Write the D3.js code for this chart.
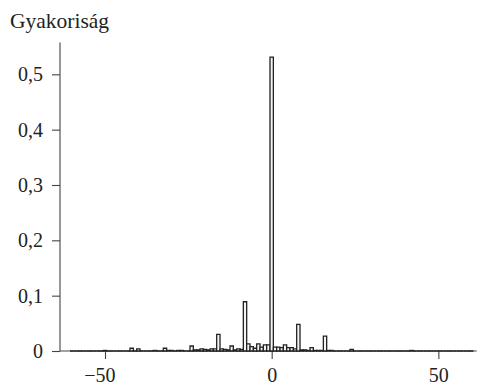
<!DOCTYPE html>
<html>
<head>
<meta charset="utf-8">
<script src="https://cdn.jsdelivr.net/npm/d3@7"></script>
<style>
  body { margin: 0; background: #fff; }
  svg { display: block; }
  svg text { font-family: 'Liberation Serif', 'Times New Roman', Times, serif; }
</style>
</head>
<body>
<svg id="chart" width="478" height="385"></svg>
<script>
// bin centres (integers -60 .. 60) and relative frequency
const bins = d3.range(-60, 61);
const freq = [
  0, 0, 0, 0, 0, 0, 0, 0, 0, 0,                // -60 .. -51
  0.001, 0, 0, 0, 0, 0, 0, 0, 0.005, 0,        // -50 .. -41
  0.004, 0, 0, 0, 0, 0.001, 0, 0, 0.005, 0.001, // -40 .. -31
  0.001, 0, 0.001, 0.001, 0, 0, 0.009, 0.002, 0.002, 0.004, // -30 .. -21
  0.003, 0.002, 0.004, 0.004, 0.030, 0.004, 0.003, 0.002, 0.009, 0.002, // -20 .. -11
  0.004, 0.003, 0.089, 0.013, 0.008, 0.005, 0.013, 0.007, 0.011, 0.011, // -10 .. -1
  0.531,                                         // 0
  0.007, 0.007, 0.006, 0.011, 0.006, 0.006, 0.004, 0.048, 0.002, 0.002, // 1 .. 10
  0.001, 0.006, 0.001, 0.001, 0.001, 0.027, 0.001, 0.001, 0, 0,         // 11 .. 20
  0, 0, 0, 0.003, 0, 0, 0, 0, 0, 0,            // 21 .. 30
  0, 0, 0, 0, 0, 0, 0, 0, 0, 0,                // 31 .. 40
  0, 0.001, 0, 0, 0, 0, 0, 0, 0, 0,            // 41 .. 50
  0, 0, 0, 0, 0, 0, 0, 0, 0, 0                 // 51 .. 60
];
const yTicks = [0, 0.1, 0.2, 0.3, 0.4, 0.5];
const xTicks = [-50, 0, 50];
const yTitle = 'Gyakoriság';

const data = bins.map((b, i) => ({ bin: b, value: freq[i] }));

const svg = d3.select('#chart');
const fontSize = 20;

const x = d3.scaleLinear().domain([-63.5, 61.5]).range([60, 476.7]);
const y = d3.scaleLinear().domain([0, 0.5575]).range([351, 42.5]);

const axisColor = '#444';

// y axis
const yAxis = svg.append('g')
  .attr('transform', `translate(${x(-63.5)},0)`)
  .call(d3.axisLeft(y).tickValues(yTicks).tickSize(8).tickPadding(9)
    .tickFormat(d => d === 0 ? '0' : d3.format('.1f')(d).replace('.', ',')));
yAxis.select('.domain').attr('d', `M0,${y.range()[1]}V${y(0)}`);
yAxis.selectAll('path, line').attr('stroke', axisColor).attr('stroke-width', 1.1);
yAxis.selectAll('text').attr('font-size', fontSize).attr('fill', '#222');

// x axis - digits centred on the tick, minus sign hangs to the left
const xAxis = svg.append('g')
  .attr('transform', `translate(0,${y(0)})`)
  .call(d3.axisBottom(x).tickValues(xTicks).tickSize(8).tickPadding(9)
    .tickFormat(d => d < 0 ? '\u2212' + Math.abs(d) : String(d)));
xAxis.select('.domain').attr('d', `M${x.range()[0]},0H${x.range()[1]}`);
xAxis.selectAll('path, line').attr('stroke', axisColor).attr('stroke-width', 1.1);
xAxis.selectAll('text')
  .attr('font-size', fontSize).attr('fill', '#222')
  .attr('text-anchor', 'end')
  .attr('x', d => String(Math.abs(d)).length * fontSize * 0.25);

// bars (drawn as paths so empty bins still show on the baseline)
svg.append('g')
  .selectAll('path')
  .data(data)
  .join('path')
  .attr('d', d => {
    const x0 = x(d.bin - 0.5), x1 = x(d.bin + 0.5);
    return `M${x0},${y(0)}V${y(d.value)}H${x1}V${y(0)}Z`;
  })
  .attr('fill', '#f4f4f4')
  .attr('stroke', '#222')
  .attr('stroke-width', 1.3);

// axis title
svg.append('text')
  .attr('x', 10)
  .attr('y', 28)
  .attr('font-size', 21.5)
  .attr('fill', '#222')
  .text(yTitle);
</script>
</body>
</html>
